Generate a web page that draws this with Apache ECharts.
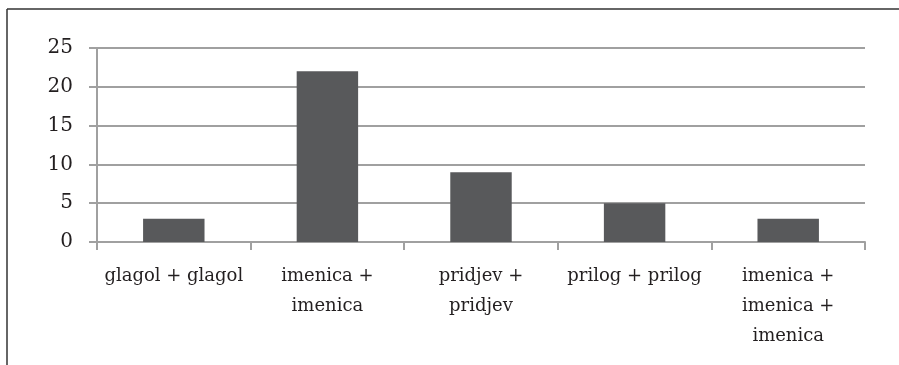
<!DOCTYPE html>
<html><head><meta charset="utf-8">
<script src="https://cdn.jsdelivr.net/npm/echarts@6/dist/echarts.min.js"></script>
<style>html,body{margin:0;padding:0;background:#fff}#c{width:899px;height:365px}</style>
</head><body><div id="c"></div>
<script>
const categories = ['glagol + glagol', 'imenica +\nimenica', 'pridjev +\npridjev', 'prilog + prilog', 'imenica +\nimenica +\nimenica'];
const values = [3, 22, 9, 5, 3];
const yTicks = [0, 5, 10, 15, 20, 25];

const chart = echarts.init(document.getElementById('c'), null, {renderer: 'canvas'});
const FONT = 'DejaVu Serif';
chart.setOption({
  animation: false,
  backgroundColor: '#ffffff',
  grid: {left: 97, right: 34, top: 48, bottom: 123, containLabel: false},
  xAxis: {
    type: 'category',
    data: categories,
    axisLine: {lineStyle: {color: '#a0a0a0', width: 2}},
    axisTick: {show: true, length: 8, lineStyle: {color: '#a0a0a0', width: 2}},
    axisLabel: {color: '#231f20', fontFamily: FONT, fontSize: 18, lineHeight: 30, margin: 19, interval: 0}
  },
  yAxis: {
    type: 'value',
    min: yTicks[0], max: yTicks[yTicks.length - 1], interval: 5,
    axisLine: {show: true, lineStyle: {color: '#a0a0a0', width: 2}},
    axisTick: {show: true, length: 8, lineStyle: {color: '#a0a0a0', width: 2}},
    splitLine: {lineStyle: {color: '#a0a0a0', width: 2}},
    axisLabel: {color: '#231f20', fontFamily: FONT, fontSize: 20, margin: 24}
  },
  series: [{
    type: 'bar',
    data: values,
    barWidth: '40%',
    itemStyle: {color: '#58595b'}
  }],
  graphic: [
    {type: 'line', shape: {x1: 7, y1: 9, x2: 899, y2: 9}, style: {stroke: '#333', lineWidth: 1.5}},
    {type: 'line', shape: {x1: 7, y1: 9, x2: 7, y2: 365}, style: {stroke: '#333', lineWidth: 1.5}}
  ]
});
</script></body></html>
